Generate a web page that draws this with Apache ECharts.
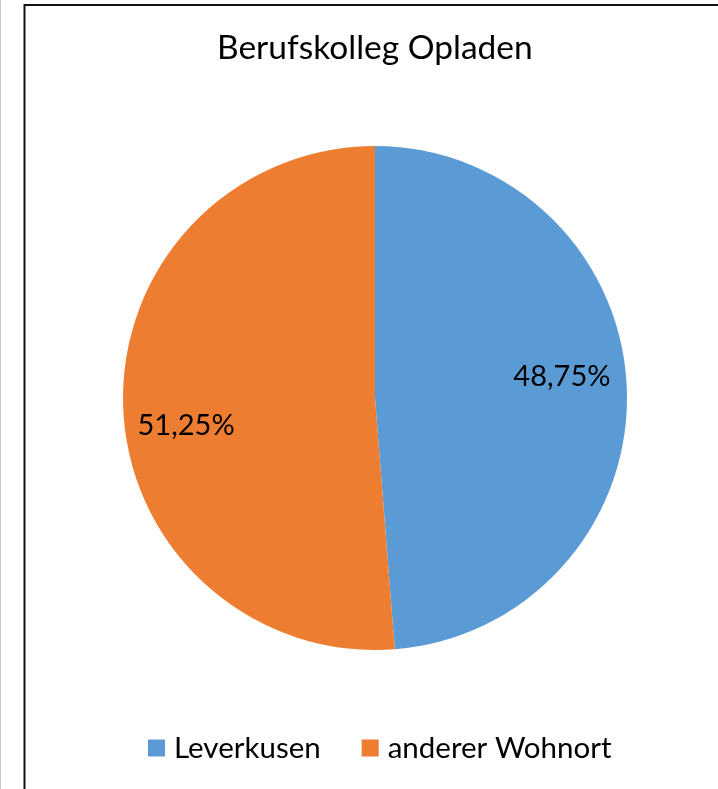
<!DOCTYPE html>
<html>
<head>
<meta charset="utf-8">
<script src="https://cdn.jsdelivr.net/npm/echarts@6/dist/echarts.min.js"></script>
<style>
  html, body { margin: 0; padding: 0; background: #fff; }
  #main { width: 718px; height: 789px; }
</style>
</head>
<body>
<div id="main"></div>
<script>
// data
const categories = ['Leverkusen', 'anderer Wohnort']
const values = [48.75, 51.25]
const colorList = ['#5B9BD5', '#ED7D31']
// label nudges (excel puts the labels further out than "inside")
const labelOffsets = [[58, -16], [-60, 23]]

const fontName = 'Lato, "Open Sans", sans-serif'

var myChart = echarts.init(document.getElementById('main'))

const pieData = categories.map((name, i) => ({
  name: name,
  value: values[i],
  label: { offset: labelOffsets[i] }
}))

const option = {
  color: colorList,
  animation: false,
  title: {
    text: 'Berufskolleg Opladen',
    left: 212,
    top: 26,
    textStyle: {
      fontFamily: fontName,
      fontWeight: 'normal',
      fontSize: 33.5,
      color: '#000'
    }
  },
  legend: {
    bottom: 21,
    left: 143,
    icon: 'rect',
    itemWidth: 17,
    itemHeight: 17,
    itemGap: 41,
    textStyle: {
      fontFamily: fontName,
      fontSize: 29.5,
      color: '#000',
      padding: [0, 0, 0, 4]
    },
    data: categories
  },
  graphic: [
    { type: 'line', shape: { x1: 0.5, y1: 0, x2: 0.5, y2: 789 }, style: { stroke: '#c8c8c8', lineWidth: 1 } },
    { type: 'line', shape: { x1: 24.5, y1: 4, x2: 24.5, y2: 789 }, style: { stroke: '#111', lineWidth: 2 } },
    { type: 'line', shape: { x1: 24, y1: 5, x2: 718, y2: 5 }, style: { stroke: '#111', lineWidth: 2 } }
  ],
  series: [
    {
      type: 'pie',
      center: [375, 398],
      radius: 252,
      startAngle: 90,
      clockwise: true,
      silent: true,
      label: {
        show: true,
        position: 'inside',
        fontFamily: fontName,
        fontSize: 29,
        color: '#000',
        formatter(item) {
          return item.value.toFixed(2).replace('.', ',') + '%'
        }
      },
      labelLine: { show: false },
      data: pieData
    }
  ]
}

myChart.setOption(option)
</script>
</body>
</html>
